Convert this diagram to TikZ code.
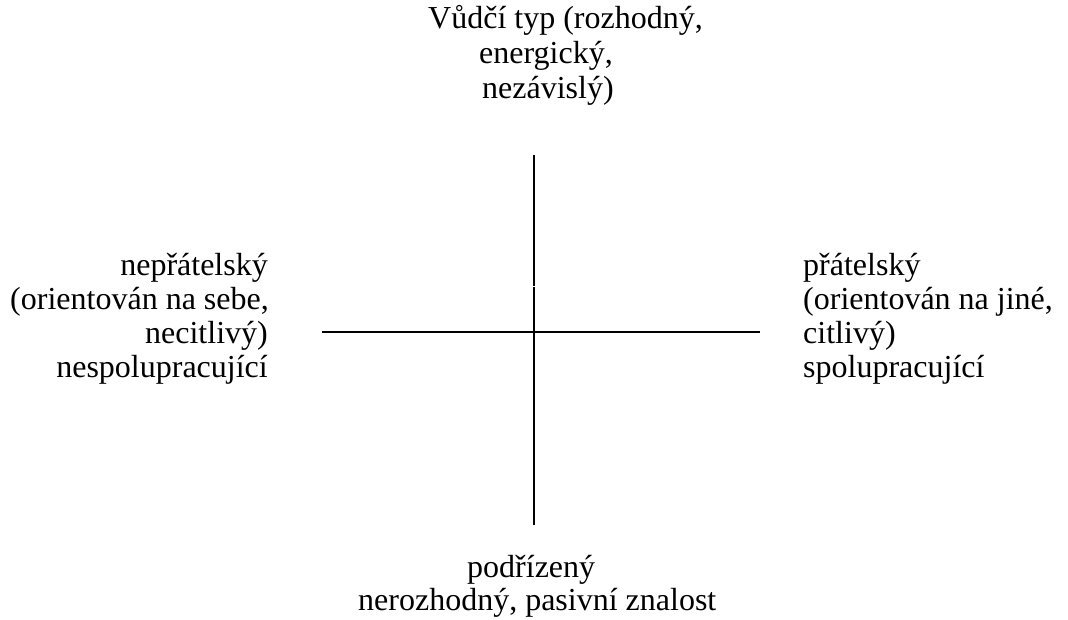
\documentclass[tikz,border=0pt]{standalone}
\usepackage{fontspec}
\setmainfont{Liberation Serif}
\begin{document}
\begin{tikzpicture}[x=1pt,y=-1pt,
  lbl/.style={inner sep=0pt,font=\fontsize{32}{34}\selectfont},
  axis/.style={line width=2pt}]
\useasboundingbox (0,0) rectangle (1068,619);
% top
\node[lbl,anchor=base west] (t1) at (428,28) {Vůdčí typ (rozhodný,};
\node[lbl,anchor=base west] (t2) at (479,63) {energický,};
\node[lbl,anchor=base west] (t3) at (482,98) {nezávislý)};
% left
\node[lbl,anchor=base east] (l1) at (268,275) {nepřátelský};
\node[lbl,anchor=base east] (l2) at (269,309) {(orientován na sebe,};
\node[lbl,anchor=base east] (l3) at (268,343) {necitlivý)};
\node[lbl,anchor=base east] (l4) at (268,377) {nespolupracující};
% right
\node[lbl,anchor=base west] (r1) at (803,275) {přátelský};
\node[lbl,anchor=base west] (r2) at (803,309) {(orientován na jiné,};
\node[lbl,anchor=base west] (r3) at (803,343) {citlivý)};
\node[lbl,anchor=base west] (r4) at (803,377) {spolupracující};
% bottom
\node[lbl,anchor=base west] (b1) at (467,577) {podřízený};
\node[lbl,anchor=base west] (b2) at (358,610) {nerozhodný, pasivní znalost};
% axes
\coordinate (vtop) at (534,155);
\coordinate (vgapa) at (534,286.3);
\coordinate (vgapb) at (534,287.3);
\coordinate (vbot) at (534,525);
\coordinate (hl) at (322,332);
\coordinate (hr) at (760,332);
\draw[axis] (vtop) -- (vgapa);
\draw[axis] (vgapb) -- (vbot);
\draw[axis] (hl) -- (hr);
\end{tikzpicture}
\end{document}
